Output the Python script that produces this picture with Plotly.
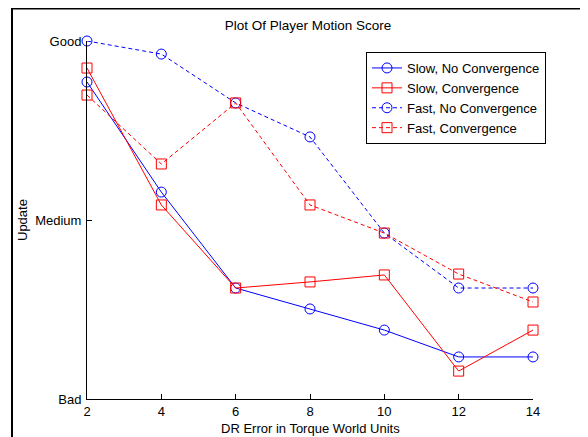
import plotly.graph_objects as go

x_vals = [2, 4, 6, 8, 10, 12, 14]
slow_no_conv = [1.771, 1.156, 0.620, 0.503, 0.385, 0.235, 0.235]
slow_conv = [1.849, 1.084, 0.620, 0.654, 0.693, 0.156, 0.385]
fast_no_conv = [2.000, 1.927, 1.654, 1.464, 0.927, 0.620, 0.620]
fast_conv = [1.698, 1.313, 1.654, 1.084, 0.927, 0.698, 0.542]

y_tick_vals = [0, 1, 2]
y_tick_text = ["Bad", "Medium", "Good"]
x_tick_vals = [2, 4, 6, 8, 10, 12, 14]

series = [
    ("Slow, No Convergence", slow_no_conv, "#0000ff", "solid", "circle-open"),
    ("Slow, Convergence", slow_conv, "#ff0000", "solid", "square-open"),
    ("Fast, No Convergence", fast_no_conv, "#0000ff", "4px,3px", "circle-open"),
    ("Fast, Convergence", fast_conv, "#ff0000", "4px,3px", "square-open"),
]

FONT = "Liberation Sans, Arial, Helvetica, sans-serif"
OFF = 8  # page body margin

fig = go.Figure()
for name, vals, color, dash, sym in series:
    fig.add_trace(go.Scatter(
        x=x_vals, y=vals, name=name, mode="lines+markers",
        line=dict(color=color, width=1, dash=dash),
        marker=dict(symbol=sym, size=10, color=color, line=dict(width=1, color=color)),
        cliponaxis=False,
    ))

W, H = 580, 429
L, R, T, B = 87 - OFF, 533 - OFF, 41 - OFF, 399 - OFF

def px(xp):
    return (xp - OFF - L) / (R - L)

def py(yp):
    return (B - (yp - OFF)) / (B - T)

fig.update_layout(
    width=W, height=H,
    margin=dict(l=L, r=W - R, t=T, b=H - B, pad=0),
    paper_bgcolor="white", plot_bgcolor="white",
    font=dict(family=FONT, size=13, color="black"),
    title=dict(text="Plot Of Player Motion Score", x=(308 - OFF) / W, xanchor="center",
               y=1 - (25 - OFF) / H, yanchor="middle", font=dict(size=13.5, family=FONT)),
    showlegend=True,
    legend=dict(
        x=px(366), y=py(52), xanchor="left", yanchor="top",
        bgcolor="white", bordercolor="black", borderwidth=1,
        font=dict(size=13, family=FONT), tracegroupgap=0, itemwidth=30,
    ),
    xaxis=dict(
        range=[2, 14], tickvals=x_tick_vals, ticks="inside", ticklen=5,
        tickcolor="black", showline=True, linecolor="black", linewidth=1,
        showgrid=False, zeroline=False, mirror=False,
        tickfont=dict(size=13, family=FONT),
    ),
    yaxis=dict(
        range=[0, 2], tickvals=y_tick_vals, ticktext=y_tick_text, ticks="inside",
        ticklen=5, tickcolor="black", showline=True, linecolor="black", linewidth=1,
        showgrid=False, zeroline=False, mirror=False, ticklabelstandoff=2,
        tickfont=dict(size=13, family=FONT),
    ),
    annotations=[
        dict(text="DR Error in Torque World Units", xref="paper", yref="paper",
             x=0.5, y=py(428), xanchor="center", yanchor="middle",
             showarrow=False, font=dict(size=13, family=FONT)),
        dict(text="Update", xref="paper", yref="paper",
             x=px(22), y=py(220), xanchor="center", yanchor="middle",
             textangle=-90, showarrow=False, font=dict(size=13, family=FONT)),
    ],
    shapes=[
        dict(type="line", xref="paper", yref="paper",
             x0=px(12), x1=px(12), y0=py(7.5), y1=py(445),
             line=dict(color="black", width=2)),
        dict(type="line", xref="paper", yref="paper",
             x0=px(12), x1=px(585), y0=py(8.5), y1=py(8.5),
             line=dict(color="black", width=2)),
        dict(type="line", xref="paper", yref="paper",
             x0=px(585), x1=px(585), y0=py(7.5), y1=py(445),
             line=dict(color="#555555", width=2)),
    ],
)

fig.write_html("out.html")
